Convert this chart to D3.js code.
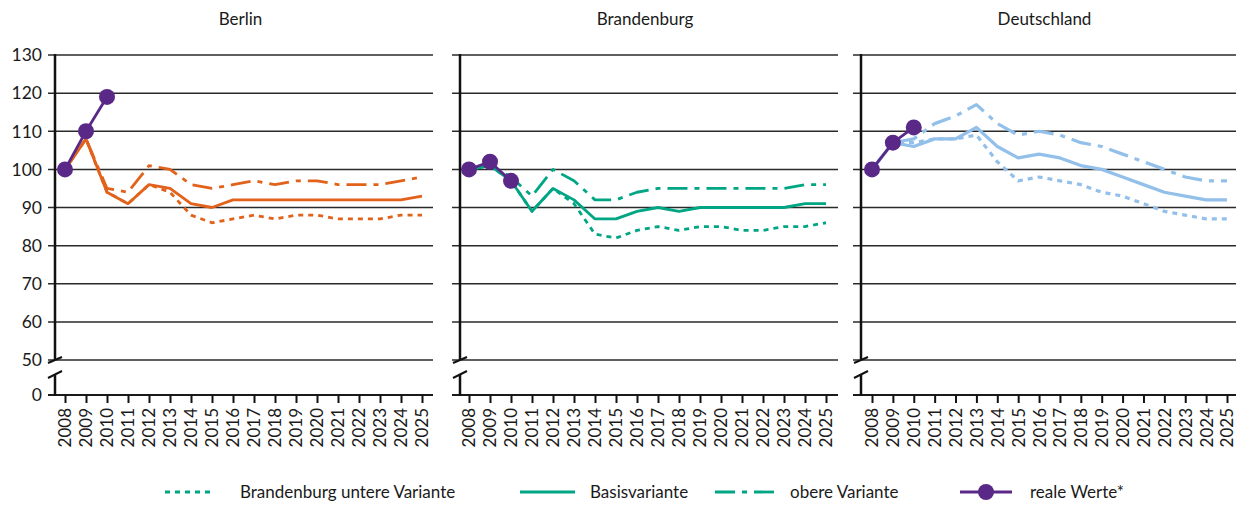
<!DOCTYPE html>
<html><head><meta charset="utf-8">
<script src="https://cdn.jsdelivr.net/npm/d3@7"></script>
<style>body{margin:0;background:#fff}svg{display:block}text{font-family:Lato,"Open Sans",sans-serif;fill:#1a1a1a}</style>
</head><body><svg id="c" width="1236" height="507"></svg>
<script>
const years = [2008,2009,2010,2011,2012,2013,2014,2015,2016,2017,2018,2019,2020,2021,2022,2023,2024,2025];
const yTicks = [50,60,70,80,90,100,110,120,130];
const regions = ["Berlin","Brandenburg","Deutschland"];
const colors = ["#e2621b","#00a584","#92c0ea"];
const realColor = "#5a2887";

const berlinLower = [100,108,94,91,96,94,88,86,87,88,87,88,88,87,87,87,88,88];
const berlinBase  = [100,108,94,91,96,95,91,90,92,92,92,92,92,92,92,92,92,93];
const berlinUpper = [100,108,95,94,101,100,96,95,96,97,96,97,97,96,96,96,97,98];
const berlinReal  = [100,110,119];

const brbLower = [100,101,97,89,95,91,83,82,84,85,84,85,85,84,84,85,85,86];
const brbBase  = [100,101,97,89,95,92,87,87,89,90,89,90,90,90,90,90,91,91];
const brbUpper = [100,101,98,93,100,97,92,92,94,95,95,95,95,95,95,95,96,96];
const brbReal  = [100,102,97];

const deLower = [100,107,107,108,108,109,102,97,98,97,96,94,93,91,89,88,87,87];
const deBase  = [100,107,106,108,108,111,106,103,104,103,101,100,98,96,94,93,92,92];
const deUpper = [100,107,108,112,114,117,112,109,110,109,107,106,104,102,100,98,97,97];
const deReal  = [100,107,111];

const legendLabels = ["Brandenburg untere Variante","Basisvariante","obere Variante","reale Werte*"];

const data = [
  {lower:berlinLower, base:berlinBase, upper:berlinUpper, real:berlinReal},
  {lower:brbLower, base:brbBase, upper:brbUpper, real:brbReal},
  {lower:deLower, base:deBase, upper:deUpper, real:deReal}
];

const svg = d3.select("#c");
const panels = [{x0:48,x1:433,ax:55,px0:65,px1:422},{x0:452,x1:838,ax:460,px0:469,px1:826},{x0:853,x1:1236,ax:861,px0:872,px1:1227}];
const y = d3.scaleLinear().domain([50,130]).range([360,55]);
const yZero = 395;
const dashes = {lower:"5,5", base:null, upper:"20,7,5,7"};

panels.forEach((p,i)=>{
  const g = svg.append("g");
  const x = d3.scalePoint().domain(years).range([p.px0,p.px1]);
  g.selectAll("line.grid").data(yTicks).join("line")
    .attr("x1",p.x0).attr("x2",p.x1).attr("y1",d=>y(d)).attr("y2",d=>y(d))
    .attr("stroke","#2a2a2a").attr("stroke-width",1.5);
  g.append("line").attr("x1",p.x0).attr("x2",p.x1).attr("y1",yZero).attr("y2",yZero)
    .attr("stroke","#1a1a1a").attr("stroke-width",2);
  g.append("line").attr("x1",p.ax).attr("x2",p.ax).attr("y1",y(130)-1).attr("y2",y(50)-1)
    .attr("stroke","#111").attr("stroke-width",2.5);
  g.append("line").attr("x1",p.ax).attr("x2",p.ax).attr("y1",374).attr("y2",yZero+1)
    .attr("stroke","#111").attr("stroke-width",2.5);
  g.append("line").attr("x1",p.ax-7).attr("x2",p.ax+7).attr("y1",y(50)+3).attr("y2",y(50)-3)
    .attr("stroke","#111").attr("stroke-width",2);
  g.append("line").attr("x1",p.ax-7).attr("x2",p.ax+7).attr("y1",378).attr("y2",371)
    .attr("stroke","#111").attr("stroke-width",2);
  const xa = d3.axisBottom(x).tickSize(8).tickPadding(5);
  const xg = g.append("g").attr("transform",`translate(0,${yZero})`).call(xa);
  xg.select(".domain").remove();
  xg.selectAll(".tick line").attr("stroke","#111").attr("stroke-width",2);
  xg.selectAll(".tick text").attr("transform","rotate(-90)").attr("text-anchor","end")
    .attr("x",-13).attr("y",0).attr("dy","0.35em").style("font-size","17px").attr("fill","#1a1a1a");
  if(i===0){
    g.selectAll("text.yl").data(yTicks).join("text")
      .attr("x",42).attr("y",d=>y(d)).attr("dy","0.36em").attr("text-anchor","end")
      .style("font-size","17.5px").text(d=>d);
    g.append("text").attr("x",42).attr("y",yZero).attr("dy","0.36em").attr("text-anchor","end")
      .style("font-size","17.5px").text(0);
  }
  g.append("text").attr("x",(p.x0+p.x1)/2).attr("y",25).attr("text-anchor","middle")
    .style("font-size","17px").text(regions[i]);
  const line = d3.line().x((d,j)=>x(years[j])).y(d=>y(d));
  ["lower","upper","base"].forEach(k=>{
    g.append("path").attr("d",line(data[i][k])).attr("fill","none")
      .attr("stroke",colors[i]).attr("stroke-width",i===2?3.2:2.8)
      .attr("stroke-dasharray",dashes[k]).attr("stroke-linejoin","round");
  });
  g.append("path").attr("d",line(data[i].real)).attr("fill","none")
    .attr("stroke",realColor).attr("stroke-width",2.8);
  g.selectAll("circle").data(data[i].real).join("circle")
    .attr("cx",(d,j)=>x(years[j])).attr("cy",d=>y(d)).attr("r",8).attr("fill",realColor);
});

const lg = svg.append("g");
const ly = 492;
const items = [
  {x1:165,x2:215,tx:240,dash:"5,5",c:colors[1]},
  {x1:520,x2:575,tx:590,dash:null,c:colors[1]},
  {x1:715,x2:775,tx:790,dash:"20,7,5,7",c:colors[1]},
  {x1:960,x2:1012,tx:1030,dash:null,c:realColor,dot:true}
];
items.forEach((it,i)=>{
  lg.append("line").attr("x1",it.x1).attr("x2",it.x2).attr("y1",ly).attr("y2",ly)
    .attr("stroke",it.c).attr("stroke-width",2.8).attr("stroke-dasharray",it.dash);
  if(it.dot) lg.append("circle").attr("cx",(it.x1+it.x2)/2).attr("cy",ly).attr("r",8).attr("fill",it.c);
  lg.append("text").attr("x",it.tx).attr("y",ly).attr("dy","0.35em").style("font-size","17px").text(legendLabels[i]);
});
</script></body></html>
